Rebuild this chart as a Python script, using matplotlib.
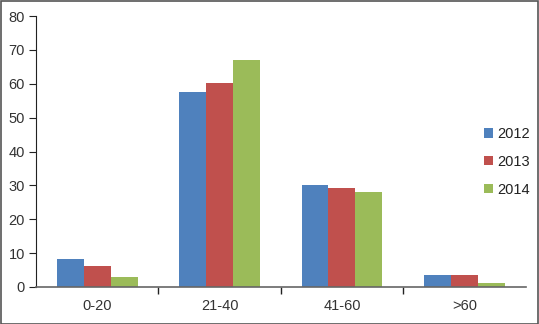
import matplotlib.pyplot as plt
import numpy as np

plt.rcParams['font.family'] = ['Liberation Sans', 'DejaVu Sans']

categories = ['0-20', '21-40', '41-60', '>60']
years = ['2012', '2013', '2014']
v2012 = [8.2, 57.7, 30.0, 3.4]
v2013 = [6.3, 60.2, 29.2, 3.6]
v2014 = [2.9, 67.1, 28.0, 1.3]
colors = ['#4F81BD', '#C0504D', '#9BBB59']

W, H = 539, 324
fig = plt.figure(figsize=(W / 100, H / 100), dpi=100)
ax = fig.add_axes([36 / W, (H - 287) / H, (525.5 - 36) / W, (287 - 16) / H])

x = np.arange(len(categories))
bw = 0.22
for i, (vals, lab) in enumerate(zip([v2012, v2013, v2014], years)):
    ax.bar(x + (i - 1) * bw, vals, width=bw, color=colors[i], label=lab, zorder=2)

ax.set_xlim(-0.5, len(categories) - 0.5)
ax.set_ylim(0, 80)
ax.set_yticks(range(0, 81, 10))

ax.set_xticks(x)
ax.set_xticklabels(categories)
ax.tick_params(axis='x', which='major', length=0, pad=9, labelsize=10.5, labelcolor='#333333')
ax.set_xticks(np.arange(0.5, len(categories) - 0.5, 1), minor=True)
ax.tick_params(axis='x', which='minor', length=5, direction='out', color='#222222', width=1)
ax.tick_params(axis='y', length=5, direction='out', color='#222222', labelsize=10.5,
               labelcolor='#333333', pad=3)

for s in ['top', 'right']:
    ax.spines[s].set_visible(False)
ax.spines['left'].set_color('#222222')
ax.spines['bottom'].set_color('#666666')
ax.spines['bottom'].set_linewidth(1.2)

fig.legend(loc='center left', bbox_to_anchor=(471 / W, 1 - 162 / H), frameon=False,
           handlelength=0.6, handleheight=0.6, handletextpad=0.3, labelspacing=0.95,
           fontsize=10.5, labelcolor='#222222')

# outer border of the image
fig.patches.append(plt.Rectangle((0.5 / W, 0.5 / H), 1 - 1.5 / W, 1 - 1.5 / H,
                                 transform=fig.transFigure, fill=False,
                                 edgecolor='#555555', linewidth=1.2))

fig.savefig('out.png', dpi=100)
